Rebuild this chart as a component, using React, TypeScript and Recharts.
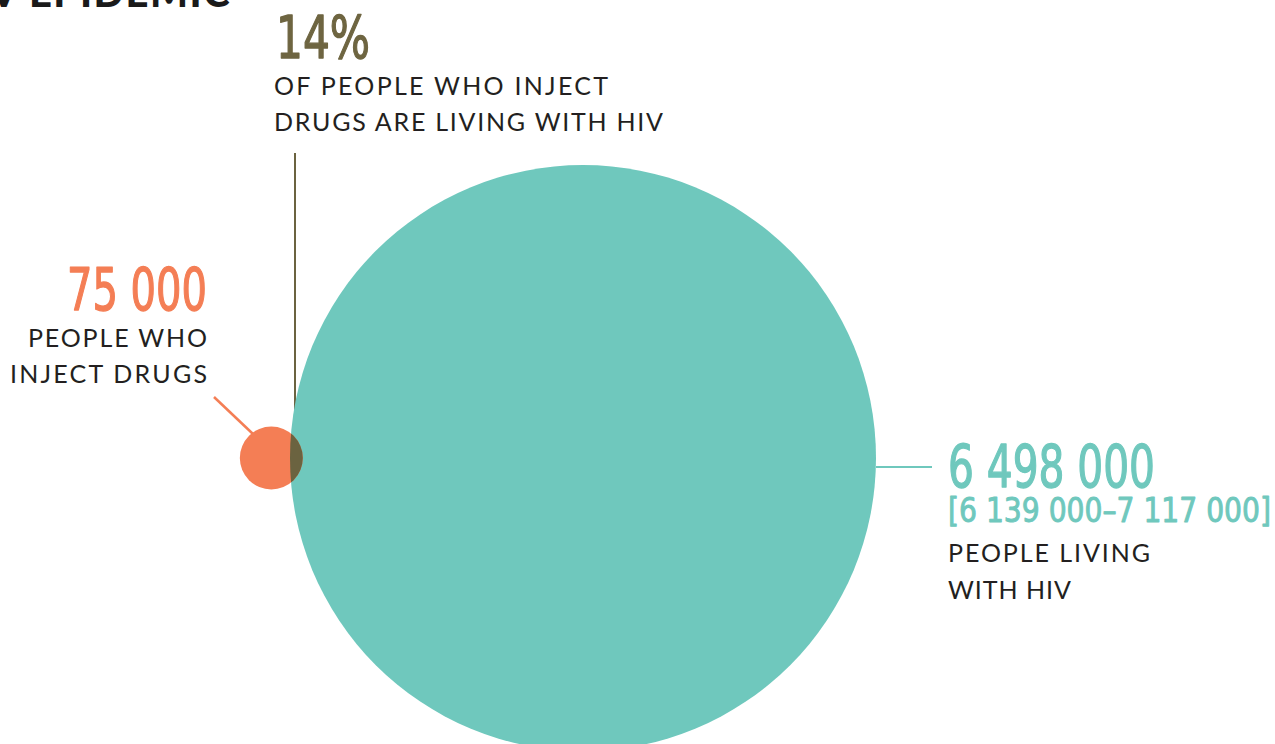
import React from 'react';
import { ScatterChart, Scatter, XAxis, YAxis, ZAxis, ReferenceLine, Customized } from 'recharts';

// ---------- data ----------
const groups = ['People living with HIV', 'People who inject drugs'];
const populations = [6498000, 75000];
const hivRange = [6139000, 7117000];
const pwidHivSharePct = 14;
const valueLabels = ['6 498 000', '75 000'];
const rangeLabel = '[6 139 000–7 117 000]';
const shareLabel = '14%';

// ---------- layout ----------
const W = 1275;
const H = 744;
const BIG_R = 293;
const AREA_PER_UNIT = (Math.PI * BIG_R * BIG_R) / populations[0];
const BIG_CENTER = { x: 583, y: 458 };

const TEAL = '#6fc8bd';
const ORANGE = '#f47e55';
const OLIVE = '#6b6340';
const OLIVE_TEXT = '#6e6541';
const DARK = '#231f20';

const radiusOf = (v: number) => Math.sqrt((v * AREA_PER_UNIT) / Math.PI);

function lensArea(r1: number, r2: number, d: number) {
  if (d >= r1 + r2) return 0;
  if (d <= Math.abs(r1 - r2)) return Math.PI * Math.min(r1, r2) ** 2;
  const a = r1 * r1 * Math.acos((d * d + r1 * r1 - r2 * r2) / (2 * d * r1));
  const b = r2 * r2 * Math.acos((d * d + r2 * r2 - r1 * r1) / (2 * d * r2));
  const c = 0.5 * Math.sqrt((-d + r1 + r2) * (d + r1 - r2) * (d - r1 + r2) * (d + r1 + r2));
  return a + b - c;
}

// distance between centres so the overlap is the share of the small circle
function centreDistance() {
  const r1 = radiusOf(populations[0]);
  const r2 = radiusOf(populations[1]);
  const target = (pwidHivSharePct / 100) * Math.PI * r2 * r2;
  let lo = r1 - r2;
  let hi = r1 + r2;
  for (let i = 0; i < 60; i++) {
    const mid = (lo + hi) / 2;
    if (lensArea(r1, r2, mid) > target) lo = mid;
    else hi = mid;
  }
  return (lo + hi) / 2;
}
const D = centreDistance();

const bigData = [{ name: groups[0], x: BIG_CENTER.x, y: BIG_CENTER.y, value: populations[0] }];
const smallData = [{ name: groups[1], x: BIG_CENTER.x - D, y: BIG_CENTER.y, value: populations[1] }];

const rOf = (p: any) => (p.size != null ? Math.sqrt(p.size / Math.PI) : p.width / 2);

const BigShape = (p: any) => {
  const r = rOf(p);
  return (
    <g>
      <defs>
        <clipPath id="hiv-clip">
          <circle cx={p.cx} cy={p.cy} r={r} />
        </clipPath>
      </defs>
      <circle cx={p.cx} cy={p.cy} r={r} fill={TEAL} />
    </g>
  );
};
const SmallShape = (p: any) => <circle cx={p.cx} cy={p.cy} r={rOf(p)} fill={ORANGE} />;
const OverlapShape = (p: any) => (
  <circle cx={p.cx} cy={p.cy} r={rOf(p)} fill={OLIVE} clipPath="url(#hiv-clip)" />
);

const numFont = '"Liberation Sans Narrow", "DejaVu Sans Condensed", "Roboto", sans-serif';
const lblFont = 'Lato, "Noto Sans", sans-serif';
const LBL_W = 400;

const Num = (props: any) => {
  const { color, sw = 1.3, children, ...rest } = props;
  return (
    <text fontFamily={numFont} fontWeight={400} fill={color} stroke={color} strokeWidth={sw} strokeLinejoin="round" lengthAdjust="spacingAndGlyphs" {...rest}>
      {children}
    </text>
  );
};

const Labels = () => (
  <g>
    <text x={231} y={7} textAnchor="end" fontFamily={lblFont} fontWeight={900} fontSize={40} fill="#1a1a1a" letterSpacing={1.5}>
      HIV EPIDEMIC
    </text>
    <Num x={276} y={58} fontSize={59} color={OLIVE_TEXT} textLength={94}>
      {shareLabel}
    </Num>
    <text x={274} y={95} fontFamily={lblFont} fontWeight={LBL_W} fontSize={25} fill={DARK} textLength={334} lengthAdjust="spacing">
      OF PEOPLE WHO INJECT
    </text>
    <text x={274} y={131} fontFamily={lblFont} fontWeight={LBL_W} fontSize={25} fill={DARK} textLength={389} lengthAdjust="spacing">
      DRUGS ARE LIVING WITH HIV
    </text>

    <Num x={207} y={310} textAnchor="end" fontSize={58} color={ORANGE} textLength={140}>
      {valueLabels[1]}
    </Num>
    <text x={207} y={347} textAnchor="end" fontFamily={lblFont} fontWeight={LBL_W} fontSize={25} fill={DARK} textLength={179} lengthAdjust="spacing">
      PEOPLE WHO
    </text>
    <text x={207} y={383} textAnchor="end" fontFamily={lblFont} fontWeight={LBL_W} fontSize={25} fill={DARK} textLength={197} lengthAdjust="spacing">
      INJECT DRUGS
    </text>

    <Num x={948} y={487} fontSize={58} color={TEAL} textLength={207}>
      {valueLabels[0]}
    </Num>
    <Num x={948} y={522} fontSize={33} color={TEAL} sw={0.9} textLength={323}>
      {rangeLabel}
    </Num>
    <text x={948} y={562} fontFamily={lblFont} fontWeight={LBL_W} fontSize={25} fill={DARK} textLength={202} lengthAdjust="spacing">
      PEOPLE LIVING
    </text>
    <text x={948} y={599} fontFamily={lblFont} fontWeight={LBL_W} fontSize={25} fill={DARK} textLength={123} lengthAdjust="spacing">
      WITH HIV
    </text>
  </g>
);

export default function App() {
  return (
    <div style={{ position: 'absolute', left: 0, top: 0, width: W, height: H, background: '#fff' }}>
      <ScatterChart width={W} height={H} margin={{ top: 0, right: 0, bottom: 0, left: 0 }}>
        <XAxis type="number" dataKey="x" domain={[0, W]} hide allowDataOverflow />
        <YAxis type="number" dataKey="y" domain={[0, H]} reversed hide allowDataOverflow />
        <ZAxis type="number" dataKey="value" domain={[0, populations[0]]} range={[0, Math.PI * BIG_R * BIG_R]} />
        <Scatter data={bigData} shape={BigShape} isAnimationActive={false} />
        <Scatter data={smallData} shape={SmallShape} isAnimationActive={false} />
        <Scatter data={smallData} shape={OverlapShape} isAnimationActive={false} />
        <ReferenceLine segment={[{ x: 295, y: 153 }, { x: 295, y: 458 }]} stroke={OLIVE} strokeWidth={2} />
        <ReferenceLine segment={[{ x: 214, y: 397 }, { x: 253, y: 434 }]} stroke={ORANGE} strokeWidth={2.5} />
        <ReferenceLine segment={[{ x: 876, y: 467 }, { x: 932, y: 467 }]} stroke={TEAL} strokeWidth={2} />
        <Customized component={Labels} />
      </ScatterChart>
    </div>
  );
}
